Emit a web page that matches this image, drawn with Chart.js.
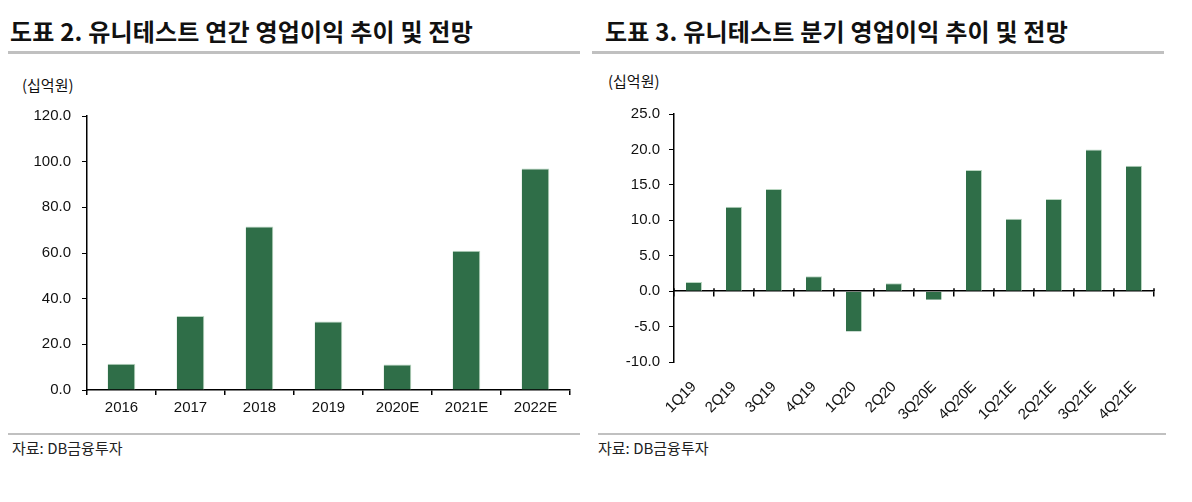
<!DOCTYPE html>
<html>
<head>
<meta charset="utf-8">
<script src="https://cdn.jsdelivr.net/npm/chart.js@4.4.1/dist/chart.umd.min.js"></script>
<style>
  body { margin: 0; background: #fff; width: 1192px; height: 502px; position: relative; overflow: hidden; font-family: "Noto Sans CJK KR", sans-serif; }
  .title { position: absolute; top: 13px; font-size: 24px; font-weight: bold; color: #111; letter-spacing: 0.2px; white-space: nowrap; }
  .rule { position: absolute; background: #c0c0c0; }
  .unit { position: absolute; font-size: 15px; color: #111; }
  .src { position: absolute; top: 437px; font-size: 15px; color: #222; white-space: nowrap; }
  .box { position: absolute; }
</style>
</head>
<body>
<div class="title" style="left:10px">도표 2. 유니테스트 연간 영업이익 추이 및 전망</div>
<div class="title" style="left:605px">도표 3. 유니테스트 분기 영업이익 추이 및 전망</div>
<div class="rule" style="left:8px; top:51px; width:572px; height:3px"></div>
<div class="rule" style="left:592px; top:51px; width:572px; height:3px"></div>
<div class="unit" style="left:22px; top:74px">(십억원)</div>
<div class="unit" style="left:608px; top:70px">(십억원)</div>

<div class="box" style="left:0; top:96px; width:600px; height:330px"><canvas id="annual"></canvas></div>
<div class="box" style="left:590px; top:96px; width:600px; height:330px"><canvas id="quarter"></canvas></div>

<div class="rule" style="left:8px; top:433px; width:572px; height:2px"></div>
<div class="rule" style="left:598px; top:433px; width:568px; height:2px"></div>
<div class="src" style="left:12px">자료: DB금융투자</div>
<div class="src" style="left:598px">자료: DB금융투자</div>

<script>
// 연간 영업이익 (십억원)
const years = ['2016', '2017', '2018', '2019', '2020E', '2021E', '2022E'];
const annualProfit = [11.5, 32.4, 71.6, 30.0, 11.2, 61.0, 97.0];

// 분기 영업이익 (십억원)
const quarters = ['1Q19', '2Q19', '3Q19', '4Q19', '1Q20', '2Q20', '3Q20E', '4Q20E', '1Q21E', '2Q21E', '3Q21E', '4Q21E'];
const quarterProfit = [1.3, 11.9, 14.4, 2.1, -5.7, 1.1, -1.2, 17.1, 10.2, 13.0, 20.0, 17.7];

const barColor = '#2f6e48';
const barEdge = '#b9d6c1';
const tickFont = { family: '"Liberation Sans", Arial, sans-serif', size: 15 };

Chart.defaults.color = '#111';
Chart.defaults.animation = false;

// small cross marks on the zero line, like the original axis
const crossTicks = {
  id: 'crossTicks',
  afterDraw(chart, args, opts) {
    if (!opts.on) return;
    const x = chart.scales.x, y = chart.scales.y;
    const y0 = y.getPixelForValue(0);
    const ctx = chart.ctx;
    ctx.save();
    ctx.strokeStyle = '#000';
    ctx.lineWidth = 1.5;
    ctx.beginPath();
    for (let i = 0; i <= x.ticks.length; i++) {
      const px = i < x.ticks.length ? x.getPixelForTick(i) - (x.getPixelForTick(1) - x.getPixelForTick(0)) / 2 : x.right;
      ctx.moveTo(px, y0 - 3);
      ctx.lineTo(px, y0);
    }
    ctx.stroke();
    ctx.restore();
  }
};

new Chart(document.getElementById('annual'), {
  type: 'bar',
  data: {
    labels: years,
    datasets: [{ data: annualProfit, backgroundColor: barColor, borderColor: barEdge, borderWidth: { top: 1, right: 1, left: 0, bottom: 0 }, barPercentage: 0.8, categoryPercentage: 0.5 }]
  },
  options: {
    responsive: true,
    maintainAspectRatio: false,
    layout: { padding: { top: 18, right: 30, left: 0, bottom: 0 } },
    plugins: { legend: { display: false }, tooltip: { enabled: false }, crossTicks: { on: false } },
    scales: {
      x: {
        grid: { drawOnChartArea: false, tickLength: 5, color: '#000', offset: true, lineWidth: 1.5 },
        border: { color: '#000', width: 1.5 },
        ticks: { font: tickFont, padding: 4, color: '#111' },
        afterFit: s => { s.height = 36; }
      },
      y: {
        min: 0, max: 120,
        grid: { drawOnChartArea: false, tickLength: 5, color: '#000' },
        border: { color: '#000', width: 1.5 },
        ticks: { stepSize: 20, font: tickFont, padding: 11, color: '#111', callback: v => v.toFixed(1) },
        afterFit: s => { s.width = 87; }
      }
    }
  },
  plugins: [crossTicks]
});

new Chart(document.getElementById('quarter'), {
  type: 'bar',
  data: {
    labels: quarters,
    datasets: [{ data: quarterProfit, backgroundColor: barColor, borderColor: barEdge, borderWidth: { top: 1, right: 1, left: 0, bottom: 0 }, barPercentage: 0.8, categoryPercentage: 0.5 }]
  },
  options: {
    responsive: true,
    maintainAspectRatio: false,
    layout: { padding: { top: 17, right: 36, left: 0, bottom: 0 } },
    plugins: { legend: { display: false }, tooltip: { enabled: false }, crossTicks: { on: true } },
    scales: {
      x: {
        position: { y: 0 },
        grid: { drawOnChartArea: false, tickLength: 5, color: '#000', offset: true, lineWidth: 1.5 },
        border: { color: '#000', width: 1.5 },
        ticks: { display: false }
      },
      xLabels: {
        type: 'category',
        labels: quarters,
        position: 'bottom',
        offset: true,
        grid: { display: false },
        border: { display: false },
        ticks: { font: tickFont, color: '#111', maxRotation: 45, minRotation: 45, padding: 8, autoSkip: false },
        afterFit: s => { s.height = 64; }
      },
      y: {
        min: -10, max: 25,
        grid: { drawOnChartArea: false, tickLength: 5, color: '#000' },
        border: { color: '#000', width: 1.5 },
        ticks: { stepSize: 5, font: tickFont, padding: 9, color: '#111', callback: v => v.toFixed(1) },
        afterFit: s => { s.width = 84; }
      }
    }
  },
  plugins: [crossTicks]
});
</script>
</body>
</html>
